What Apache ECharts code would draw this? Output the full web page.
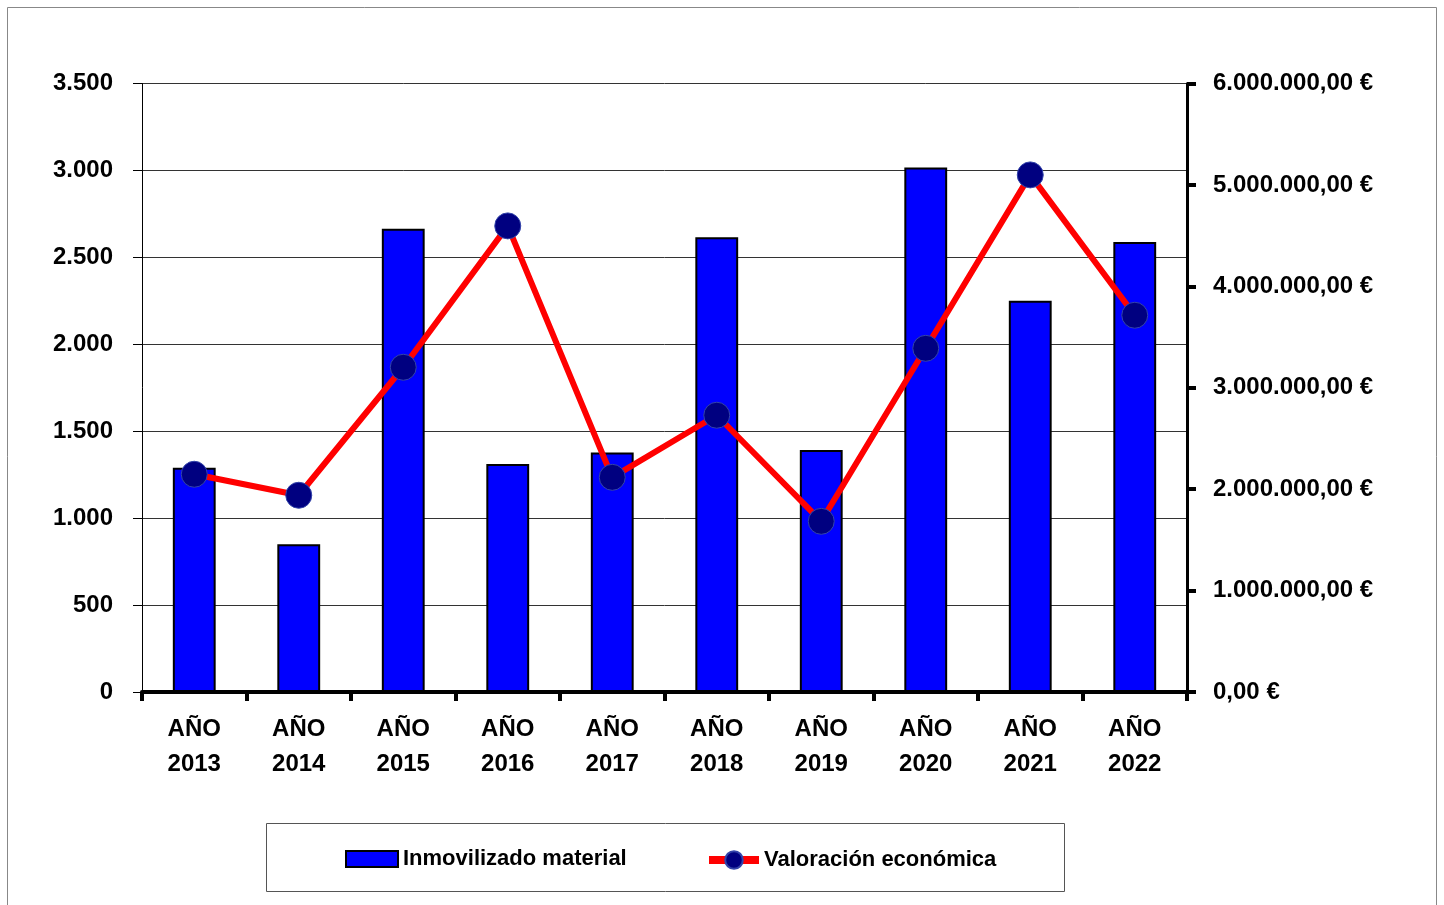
<!DOCTYPE html>
<html>
<head>
<meta charset="utf-8">
<script src="https://cdn.jsdelivr.net/npm/echarts@6/dist/echarts.min.js"></script>
<style>
html,body{margin:0;padding:0;background:#fff;}
#chart{width:1444px;height:905px;}
</style>
</head>
<body>
<div id="chart"></div>
<script>
const categories = ['AÑO\n2013','AÑO\n2014','AÑO\n2015','AÑO\n2016','AÑO\n2017','AÑO\n2018','AÑO\n2019','AÑO\n2020','AÑO\n2021','AÑO\n2022'];
const inmovilizado = [1290, 850, 2665, 1312, 1377, 2616, 1392, 3017, 2251, 2589];
const valoracion = [2147000, 1940000, 3202000, 4596000, 2117000, 2729000, 1683000, 3389000, 5099000, 3715000];
const seriesNames = ['Inmovilizado material', 'Valoración económica'];

const FONT = '"Liberation Sans", Arial, sans-serif';

function thousands(n) {
  return String(Math.round(n)).replace(/\B(?=(\d{3})+(?!\d))/g, '.');
}

const legendText = { fontFamily: FONT, fontWeight: 'bold', fontSize: 22, color: '#000' };

const chart = echarts.init(document.getElementById('chart'));
chart.setOption({
  animation: false,
  backgroundColor: '#fff',
  textStyle: { fontFamily: FONT },
  graphic: [
    { type: 'rect', shape: { x: 7.5, y: 7.5, width: 1429, height: 1000 }, style: { fill: 'none', stroke: '#888', lineWidth: 1 }, z: -1 },
    { type: 'rect', shape: { x: 266.5, y: 823.5, width: 798, height: 68 }, style: { fill: '#fff', stroke: '#555', lineWidth: 1 }, z: -1 }
  ],
  grid: { left: 142, right: 257, top: 83.5, bottom: 213, containLabel: false },
  legend: [
    {
      data: [{ name: seriesNames[0], icon: 'rect' }],
      left: 340, top: 843, padding: 5,
      itemWidth: 52, itemHeight: 16,
      itemStyle: { borderColor: '#000', borderWidth: 2 },
      textStyle: legendText
    },
    {
      data: [seriesNames[1]],
      left: 700, top: 844, padding: 5,
      itemWidth: 50, itemHeight: 22,
      lineStyle: { width: 8 },
      textStyle: legendText
    }
  ],
  xAxis: {
    type: 'category',
    data: categories,
    boundaryGap: true,
    axisLine: { lineStyle: { color: '#000', width: 4 } },
    axisTick: { show: true, alignWithLabel: false, length: 9, lineStyle: { color: '#000', width: 4 } },
    axisLabel: { color: '#000', fontFamily: FONT, fontWeight: 'bold', fontSize: 24, lineHeight: 35, margin: 20, interval: 0 }
  },
  yAxis: [
    {
      type: 'value', min: 0, max: 3500, interval: 500, position: 'left',
      axisLine: { show: true, lineStyle: { color: '#000', width: 1 } },
      axisTick: { show: true, length: 9, lineStyle: { color: '#000', width: 1 } },
      splitLine: { show: true, lineStyle: { color: '#333', width: 1 } },
      axisLabel: { color: '#000', fontFamily: FONT, fontWeight: 'bold', fontSize: 24, margin: 29, formatter: v => thousands(v) }
    },
    {
      type: 'value', min: 0, max: 6000000, interval: 1000000, position: 'right',
      axisLine: { show: true, lineStyle: { color: '#000', width: 3 } },
      axisTick: { show: true, length: 9, lineStyle: { color: '#000', width: 4 } },
      splitLine: { show: false },
      axisLabel: { color: '#000', fontFamily: FONT, fontWeight: 'bold', fontSize: 24, margin: 26, formatter: v => thousands(v) + ',00 €' }
    }
  ],
  series: [
    {
      name: seriesNames[0], type: 'bar', yAxisIndex: 0, data: inmovilizado,
      barWidth: '41%',
      itemStyle: { color: '#0000FF', borderColor: '#000', borderWidth: 2 }
    },
    {
      name: seriesNames[1], type: 'line', yAxisIndex: 1, data: valoracion,
      symbol: 'circle', symbolSize: 26,
      lineStyle: { color: '#FF0000', width: 6 },
      itemStyle: { color: '#000080', borderColor: '#3344aa', borderWidth: 1 },
      z: 3
    }
  ]
});
</script>
</body>
</html>
